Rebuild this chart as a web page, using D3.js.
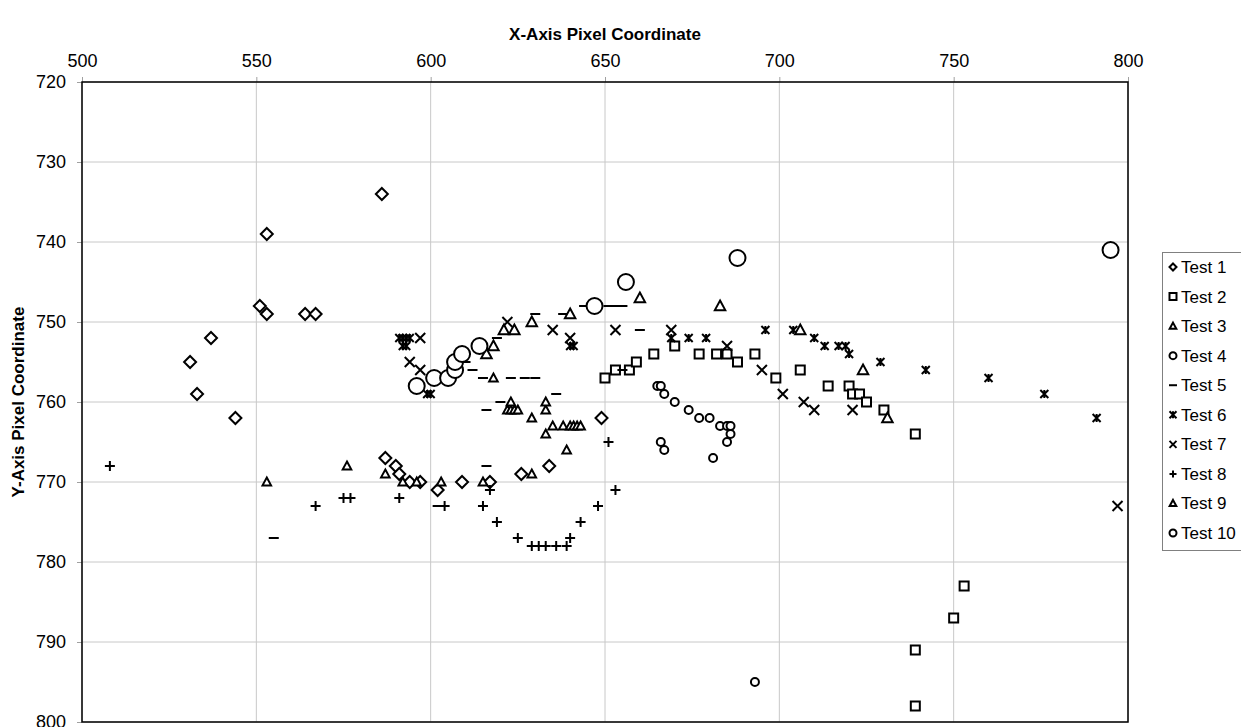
<!DOCTYPE html>
<html lang="en">
<head>
    <meta charset="UTF-8">
    <title>Pixel Coordinates</title>
    <style>
        body { margin: 0; background: #ffffff; }
        svg { font-family: Arial, "Liberation Sans", sans-serif; }
        .grid line { stroke: #c8c8c8; stroke-width: 1px; }
        .axis path { display: none; }
        .axis line { stroke: #a0a0a0; }
        .axis text { font-size: 18px; fill: #000; }
        .title { font-size: 17px; font-weight: bold; }
        .mark { fill: #ffffff; stroke: #000000; stroke-width: 2px; }
        .legend text { font-size: 17px; }
    </style>
</head>
<body>
    <script src="https://d3js.org/d3.v7.min.js"></script>
    <script>
        var width = 1241;
        var height = 727;

        // tick values
        var xTicks = [500, 550, 600, 650, 700, 750, 800];
        var yTicks = [720, 730, 740, 750, 760, 770, 780, 790, 800];

        var seriesNames = ["Test 1", "Test 2", "Test 3", "Test 4", "Test 5",
                           "Test 6", "Test 7", "Test 8", "Test 9", "Test 10"];

        // [x, y] pixel coordinates
        var test1 = [[586,734],[553,739],[551,748],[553,749],[564,749],[567,749],[537,752],[531,755],
                     [533,759],[544,762],[587,767],[590,768],[591,769],[594,770],[597,770],[602,771],
                     [609,770],[617,770],[626,769],[634,768],[649,762]];
        var test2 = [[650,757],[653,756],[657,756],[659,755],[664,754],[670,753],[677,754],[682,754],
                     [685,754],[688,755],[693,754],[699,757],[706,756],[714,758],[720,758],[721,759],
                     [723,759],[725,760],[730,761],[739,764],[739,791],[739,798],[750,787],[753,783]];
        var test3 = [[553,770],[576,768],[587,769],[592,770],[596,770],[603,770],[615,770],[629,769],
                     [639,766],[633,764],[635,763],[638,763],[640,763],[641,763],[642,763],[643,763],
                     [633,761],[633,760],[629,762],[622,761],[623,761],[624,761],[625,761],[623,760],
                     [618,757]];
        var test4 = [[665,758],[666,758],[667,759],[670,760],[674,761],[677,762],[680,762],[683,763],
                     [685,763],[686,763],[686,764],[685,765],[666,765],[667,766],[681,767],[693,795]];
        var test5 = [[555,777],[602,773],[616,768],[616,761],[620,760],[636,759],[610,754],[610,755],
                     [612,756],[615,757],[623,757],[627,757],[630,757],[619,752],[630,749],[638,749],
                     [644,748],[651,748],[653,748],[655,748],[660,751],[655,756]];
        var test6 = [[591,752],[592,752],[593,752],[594,752],[592,753],[593,753],[599,759],[600,759],
                     [640,753],[641,753],[669,752],[674,752],[679,752],[696,751],[704,751],[710,752],
                     [713,753],[717,753],[719,753],[720,754],[729,755],[742,756],[760,757],[776,759],
                     [791,762]];
        var test7 = [[594,755],[597,756],[597,752],[622,750],[635,751],[640,752],[653,751],[669,751],
                     [685,753],[695,756],[701,759],[707,760],[710,761],[721,761],[797,773]];
        var test8 = [[508,768],[567,773],[575,772],[577,772],[591,772],[604,773],[615,773],[617,771],
                     [619,775],[625,777],[629,778],[631,778],[633,778],[636,778],[639,778],[640,777],
                     [643,775],[648,773],[651,765],[653,771]];
        var test9 = [[616,754],[618,753],[621,751],[624,751],[629,750],[640,749],[660,747],[683,748],
                     [706,751],[724,756],[731,762]];
        var test10 = [[596,758],[601,757],[605,757],[607,756],[607,755],[609,754],[614,753],[647,748],
                      [656,745],[688,742],[795,741]];

        var seriesData = [test1, test2, test3, test4, test5, test6, test7, test8, test9, test10];
        var markerTypes = ["diamond", "square", "triangle", "circle", "dash",
                           "star", "cross", "plus", "triangle", "circle"];
        var markerSizes = [6, 4.5, 4.5, 4, 5, 4, 5, 5, 5.5, 8];

        var x = d3.scaleLinear().domain([500, 800]).range([82, 1128]);
        var y = d3.scaleLinear().domain([720, 800]).range([82, 722]);

        var svg = d3.select("body").append("svg")
            .attr("width", width)
            .attr("height", height);

        // gridlines
        var grid = svg.append("g").attr("class", "grid");
        grid.selectAll(".vg").data(xTicks).enter().append("line")
            .attr("x1", d => x(d)).attr("x2", d => x(d))
            .attr("y1", y(720)).attr("y2", y(800));
        grid.selectAll(".hg").data(yTicks).enter().append("line")
            .attr("x1", x(500)).attr("x2", x(800))
            .attr("y1", d => y(d)).attr("y2", d => y(d));

        // axes
        svg.append("g").attr("class", "axis")
            .attr("transform", "translate(0," + y(720) + ")")
            .call(d3.axisTop(x).tickValues(xTicks).tickSize(5).tickPadding(10));
        svg.append("g").attr("class", "axis")
            .attr("transform", "translate(" + x(500) + ",0)")
            .call(d3.axisLeft(y).tickValues(yTicks).tickSize(5).tickPadding(11));

        // plot border
        svg.append("rect")
            .attr("x", x(500)).attr("y", y(720))
            .attr("width", x(800) - x(500)).attr("height", y(800) - y(720))
            .attr("fill", "none").attr("stroke", "#000").attr("stroke-width", 1.5);

        // titles
        svg.append("text").attr("class", "title")
            .attr("x", (x(500) + x(800)) / 2).attr("y", 40)
            .attr("text-anchor", "middle")
            .text("X-Axis Pixel Coordinate");
        svg.append("text").attr("class", "title")
            .attr("transform", "translate(24," + ((y(720) + y(800)) / 2) + ") rotate(-90)")
            .attr("text-anchor", "middle")
            .text("Y-Axis Pixel Coordinate");

        function markerPath(type, s) {
            switch (type) {
                case "diamond":
                    return "M0," + (-s) + "L" + s + ",0L0," + s + "L" + (-s) + ",0Z";
                case "square":
                    return "M" + (-s) + "," + (-s) + "H" + s + "V" + s + "H" + (-s) + "Z";
                case "triangle":
                    return "M0," + (-s) + "L" + (s * 0.95) + "," + (s * 0.75) + "H" + (-s * 0.95) + "Z";
                case "circle":
                    return "M" + s + ",0A" + s + "," + s + " 0 1,1 " + (-s) + ",0A" + s + "," + s + " 0 1,1 " + s + ",0";
                case "dash":
                    return "M" + (-s) + ",0H" + s;
                case "star":
                    // excel star: an X with a vertical stroke through it
                    return "M" + (-s) + "," + (-s) + "L" + s + "," + s + "M" + s + "," + (-s) + "L" + (-s) + "," + s +
                        "M0," + (-s) + "V" + s;
                case "cross":
                    return "M" + (-s) + "," + (-s) + "L" + s + "," + s + "M" + s + "," + (-s) + "L" + (-s) + "," + s;
                case "plus":
                    return "M" + (-s) + ",0H" + s + "M0," + (-s) + "V" + s;
            }
        }

        function styleMark(sel, type) {
            sel.attr("class", "mark")
                .attr("fill", (type === "dash" || type === "star" || type === "cross" || type === "plus") ? "none" : "#fff")
                .attr("stroke-width", type === "dash" ? 3.5 : (type === "star" ? 2.5 : 2));
        }

        // series
        seriesData.forEach(function(data, i) {
            var g = svg.append("g").attr("class", "series");
            g.selectAll("path").data(data).enter().append("path")
                .attr("transform", d => "translate(" + x(d[0]) + "," + y(d[1]) + ")")
                .attr("d", markerPath(markerTypes[i], markerSizes[i]))
                .call(styleMark, markerTypes[i]);
        });

        // legend
        var legend = svg.append("g").attr("class", "legend");
        legend.append("rect")
            .attr("x", 1162.5).attr("y", 252.5)
            .attr("width", 100).attr("height", 298)
            .attr("fill", "#fff").attr("stroke", "#808080");
        var ly = d3.scalePoint().domain(seriesNames).range([267, 533]);
        var item = legend.selectAll(".item").data(seriesNames).enter().append("g")
            .attr("transform", d => "translate(1173," + ly(d) + ")");
        item.append("path")
            .attr("d", (d, i) => markerPath(markerTypes[i], markerTypes[i] === "dash" ? 4 : 3.5))
            .each(function(d, i) { d3.select(this).call(styleMark, markerTypes[i]); });
        item.append("text")
            .attr("x", 8).attr("dy", "0.35em")
            .text(d => d);
    </script>
</body>
</html>
